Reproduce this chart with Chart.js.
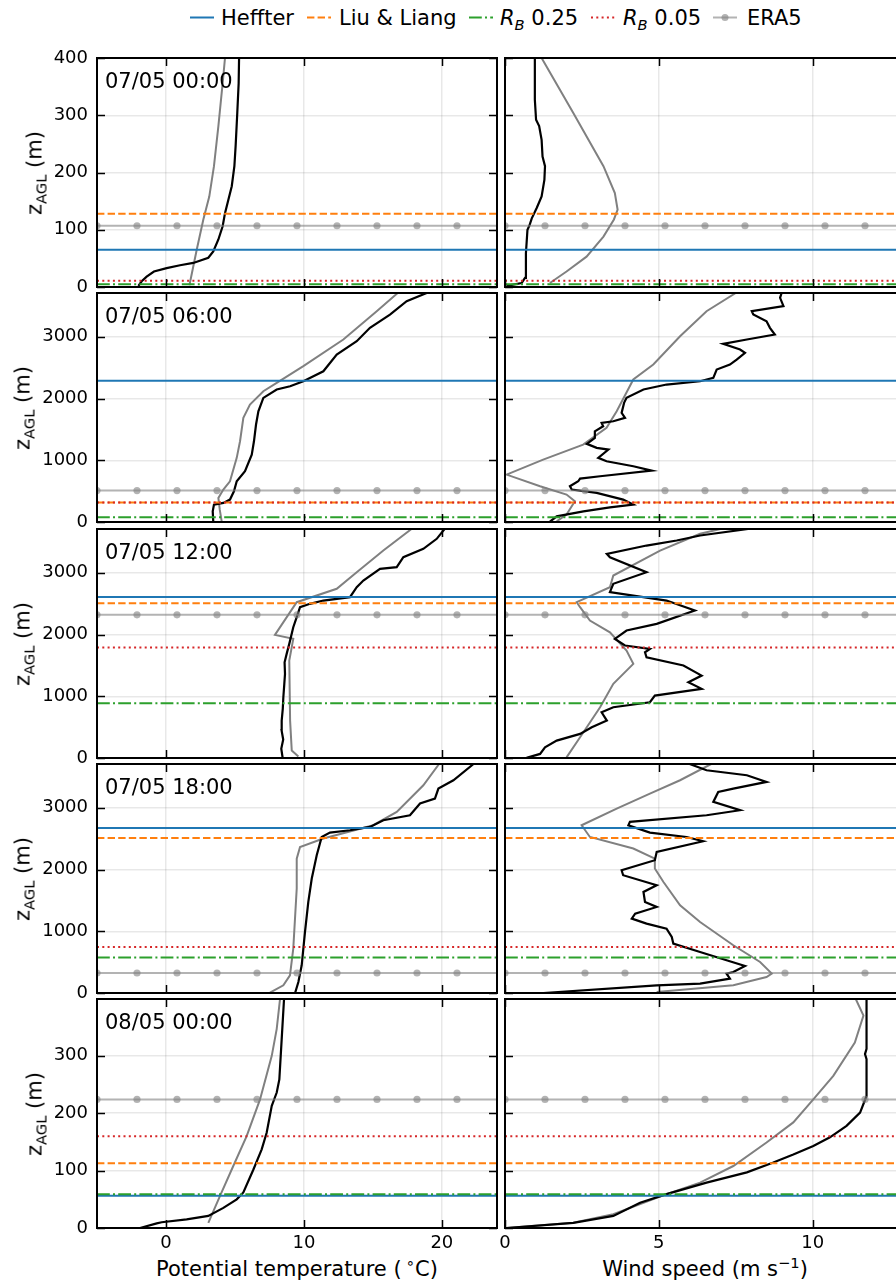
<!DOCTYPE html>
<html>
<head>
<meta charset="utf-8">
<title>PBL height profiles</title>
<script src="https://cdn.jsdelivr.net/npm/chart.js@4.4.1/dist/chart.umd.min.js"></script>
<style>
  html, body { margin: 0; padding: 0; }
  body { width: 896px; height: 1285px; overflow: hidden; position: relative; background: #fff;
         font-family: "DejaVu Sans", sans-serif; color: #000; }
  canvas { position: absolute; }
  .txt { position: absolute; white-space: nowrap; font-size: 21px; line-height: 21px; }
  .sample { position: absolute; top: 14px; }
  sub, sup { font-size: 70%; line-height: 0; }
  .ytitle { transform: translate(-50%, -50%) rotate(-90deg); }
  .xtitle { transform: translateX(-50%); }
</style>
</head>
<body>

<!-- legend -->
<svg class="sample" style="left:190px" width="24" height="7"><line x1="0" y1="3.5" x2="24" y2="3.5" stroke="#1f77b4" stroke-width="2"/></svg>
<div class="txt" style="left:221px;top:8px">Heffter</div>
<svg class="sample" style="left:307px" width="24" height="7"><line x1="0" y1="3.5" x2="24" y2="3.5" stroke="#ff7f0e" stroke-width="2" stroke-dasharray="7.4 3.2"/></svg>
<div class="txt" style="left:339px;top:8px">Liu &amp; Liang</div>
<svg class="sample" style="left:469px" width="24" height="7"><line x1="0" y1="3.5" x2="24" y2="3.5" stroke="#2ca02c" stroke-width="2" stroke-dasharray="12.8 3.2 2 3.2"/></svg>
<div class="txt" style="left:500px;top:8px"><i>R</i><sub><i>B</i></sub> 0.25</div>
<svg class="sample" style="left:591px" width="24" height="7"><line x1="0" y1="3.5" x2="24" y2="3.5" stroke="#d62728" stroke-width="2" stroke-dasharray="2 3.3"/></svg>
<div class="txt" style="left:623px;top:8px"><i>R</i><sub><i>B</i></sub> 0.05</div>
<svg class="sample" style="left:713px" width="24" height="7"><line x1="0" y1="3.5" x2="24" y2="3.5" stroke="rgba(128,128,128,0.6)" stroke-width="2"/><circle cx="12" cy="3.5" r="3.5" fill="rgba(128,128,128,0.6)"/></svg>
<div class="txt" style="left:747px;top:8px">ERA5</div>

<!-- x axis titles -->
<div class="txt xtitle" style="left:297px;top:1259px">Potential temperature (&thinsp;<sup>∘</sup>C)</div>
<div class="txt xtitle" style="left:705px;top:1259px">Wind speed (m s<sup>−1</sup>)</div>

<script>
// ===== DATA =====
const TIMES = ["07/05 00:00", "07/05 06:00", "07/05 12:00", "07/05 18:00", "08/05 00:00"];

// axis ranges
const THETA_AXIS = [-5, 24, 10];
const WS_AXIS = [0, 13, 5];
const Z_TOP = [400, 3710, 3710, 3710, 399];
const Z_STEP = [100, 1000, 1000, 1000, 100];

// boundary layer heights (m) per time
const PBL_HEFFTER = [65, 2290, 2610, 2675, 56];
const PBL_LIU = [128, 315, 2507, 2512, 113];
const PBL_RB025 = [5, 76, 887, 574, 59];
const PBL_RB005 = [11, 314, 1789, 746, 160];
const PBL_ERA5 = [107, 509, 2319, 324, 224];

// ---- 07/05 00:00 ----
const SONDE_THETA_Z1 = [2, 10, 18, 27, 33, 38, 42, 51, 62, 83, 106, 129, 152, 176, 211, 246, 304, 356, 400];
const SONDE_THETA1 = [-2.0, -1.76, -1.4, -0.87, 0.05, 1.02, 1.98, 3.07, 3.43, 3.8, 4.11, 4.28, 4.52, 4.77, 4.96, 5.05, 5.17, 5.27, 5.3];
const ERA5_THETA_Z1 = [3, 65, 118, 158, 211, 281, 356, 400];
const ERA5_THETA1 = [1.7, 2.23, 2.71, 3.14, 3.48, 3.8, 4.11, 4.28];
const SONDE_WS_Z1 = [2, 7, 16, 59, 100, 107, 120, 138, 158, 187, 211, 228, 257, 281, 292, 327, 400];
const SONDE_WS1 = [0.05, 0.54, 0.65, 0.68, 0.73, 0.79, 0.87, 1.03, 1.19, 1.28, 1.3, 1.22, 1.19, 1.11, 1.01, 0.97, 0.97];
const ERA5_WS_Z1 = [7, 27, 53, 88, 118, 135, 164, 211, 304, 400];
const ERA5_WS1 = [1.46, 2.0, 2.65, 3.2, 3.54, 3.66, 3.57, 3.2, 2.22, 1.19];

// ---- 07/05 06:00 ----
const SONDE_THETA_Z2 = [5, 173, 282, 310, 363, 498, 660, 822, 1092, 1308, 1579, 1794, 2011, 2146, 2199, 2280, 2442, 2713, 2929, 3146, 3361, 3577, 3710];
const SONDE_THETA2 = [3.43, 3.39, 3.48, 4.16, 4.64, 4.93, 5.13, 5.73, 6.22, 6.38, 6.53, 6.7, 7.06, 8.03, 9.0, 9.96, 11.41, 12.38, 13.83, 14.79, 16.24, 17.45, 18.9];
const ERA5_THETA_Z2 = [10, 200, 390, 525, 660, 1039, 1308, 1687, 1903, 2119, 2254, 2524, 2956, 3415, 3710];
const ERA5_THETA2 = [4.04, 3.9, 3.8, 4.16, 4.64, 5.13, 5.37, 5.61, 6.09, 7.06, 8.03, 9.96, 12.86, 15.28, 16.8];
const SONDE_WS_Z2 = [5, 92, 173, 238, 282, 363, 471, 525, 579, 660, 703, 741, 833, 903, 984, 1039, 1173, 1201, 1266, 1363, 1470, 1551, 1606, 1632, 1687, 1768, 1930, 2011, 2146, 2227, 2280, 2335, 2470, 2551, 2632, 2740, 2794, 2886, 2956, 3037, 3146, 3253, 3361, 3415, 3496, 3632, 3710];
const SONDE_WS2 = [1.46, 1.68, 2.55, 3.41, 4.17, 3.84, 2.98, 2.17, 2.11, 2.38, 2.44, 3.09, 4.77, 4.17, 3.3, 3.03, 3.36, 2.98, 2.66, 2.92, 2.92, 3.19, 3.14, 3.52, 3.9, 3.79, 3.87, 3.95, 4.5, 5.25, 6.34, 6.77, 6.88, 7.31, 7.53, 7.8, 7.64, 7.09, 7.86, 8.77, 8.61, 8.5, 8.07, 8.02, 9.05, 8.94, 8.99];
const ERA5_WS_Z2 = [11, 120, 335, 444, 579, 768, 1011, 1254, 1525, 1794, 2308, 2551, 3010, 3415, 3710];
const ERA5_WS2 = [1.68, 2.0, 2.27, 2.0, 1.14, 0.05, 1.24, 2.54, 3.3, 3.63, 4.17, 4.82, 5.69, 6.55, 7.5];

// ---- 07/05 12:00 ----
const SONDE_THETA_Z3 = [0, 150, 300, 450, 606, 800, 984, 1200, 1363, 1550, 1687, 1849, 2119, 2281, 2443, 2498, 2551, 2605, 2767, 2875, 3065, 3091, 3253, 3389, 3551, 3710];
const SONDE_THETA3 = [8.46, 8.36, 8.5, 8.38, 8.39, 8.47, 8.51, 8.58, 8.63, 8.6, 8.75, 8.94, 9.23, 9.48, 9.72, 10.44, 11.41, 13.34, 13.83, 14.31, 15.52, 16.73, 17.21, 18.66, 19.63, 20.2];
const ERA5_THETA_Z3 = [23, 120, 606, 1579, 1930, 1995, 2524, 2741, 3010, 3361, 3710];
const ERA5_THETA3 = [9.6, 9.12, 9.0, 8.94, 9.23, 7.9, 9.48, 12.38, 13.83, 15.76, 17.8];
const SONDE_WS_Z3 = [2, 66, 173, 282, 390, 498, 606, 741, 822, 903, 1011, 1120, 1227, 1335, 1498, 1632, 1713, 1768, 1822, 1930, 2065, 2173, 2389, 2551, 2686, 2822, 3010, 3253, 3308, 3442, 3524, 3605, 3710];
const SONDE_WS3 = [0.7, 1.14, 1.3, 1.68, 2.44, 2.82, 3.31, 3.14, 3.52, 4.71, 4.87, 6.39, 5.96, 6.39, 5.8, 4.6, 4.55, 4.71, 3.9, 3.57, 3.95, 4.93, 6.17, 5.25, 3.41, 3.52, 4.6, 3.41, 3.31, 4.6, 5.58, 6.34, 7.9];
const ERA5_WS_Z3 = [11, 336, 822, 1201, 1525, 1741, 2037, 2227, 2443, 2524, 2767, 2956, 3361, 3632, 3710];
const ERA5_WS3 = [2.0, 2.44, 3.09, 3.52, 4.17, 3.95, 3.41, 2.76, 2.44, 2.33, 3.41, 3.52, 5.04, 6.34, 7.0];

// ---- 07/05 18:00 ----
const SONDE_THETA_Z4 = [0, 178, 449, 989, 1475, 1854, 2232, 2528, 2599, 2637, 2690, 2799, 2880, 3069, 3150, 3312, 3447, 3710];
const SONDE_THETA4 = [9.36, 9.6, 9.84, 10.08, 10.32, 10.57, 10.93, 11.29, 11.89, 13.34, 14.79, 15.76, 17.69, 18.42, 19.5, 19.75, 20.84, 22.3];
const ERA5_THETA_Z4 = [6, 125, 287, 720, 1692, 2175, 2366, 2502, 2718, 2933, 3366, 3710];
const ERA5_THETA4 = [7.54, 8.51, 8.99, 9.23, 9.48, 9.48, 9.72, 11.41, 15.03, 16.73, 18.66, 19.8];
const SONDE_WS_Z4 = [0, 125, 152, 233, 314, 341, 438, 530, 665, 800, 908, 1043, 1124, 1205, 1286, 1394, 1475, 1637, 1746, 1908, 1989, 2151, 2285, 2459, 2528, 2599, 2718, 2772, 2880, 2961, 3096, 3258, 3312, 3420, 3528, 3609, 3710];
const SONDE_WS4 = [1.25, 4.93, 6.34, 7.31, 7.2, 7.42, 7.8, 7.2, 6.34, 5.47, 5.42, 5.25, 4.6, 4.12, 4.23, 4.93, 4.55, 4.5, 4.93, 3.84, 3.79, 4.87, 4.93, 6.44, 5.9, 4.71, 4.01, 4.06, 6.55, 7.64, 6.77, 6.93, 7.42, 8.5, 7.86, 6.55, 6.0];
const ERA5_WS_Z4 = [16, 125, 259, 314, 502, 773, 1151, 1421, 1799, 2016, 2178, 2340, 2528, 2718, 2988, 3231, 3447, 3710];
const ERA5_WS4 = [4.93, 7.42, 8.5, 8.67, 8.29, 7.42, 6.34, 5.69, 5.15, 4.87, 4.87, 4.17, 2.76, 2.49, 3.63, 4.71, 5.69, 6.7];

// ---- 08/05 00:00 ----
const SONDE_THETA_Z5 = [0, 8, 10, 15, 21, 35, 50, 62, 102, 137, 166, 213, 236, 259, 329, 399];
const SONDE_THETA5 = [-1.88, -0.67, -0.31, 1.5, 3.07, 4.16, 5.13, 5.61, 6.34, 6.94, 7.3, 7.67, 8.03, 8.22, 8.39, 8.56];
const ERA5_THETA_Z5 = [9, 56, 108, 160, 224, 300, 347, 399];
const ERA5_THETA5 = [3.07, 3.92, 4.88, 5.85, 6.82, 7.67, 8.03, 8.27];
const SONDE_WS_Z5 = [0, 9, 21, 44, 59, 79, 97, 114, 128, 143, 158, 178, 201, 230, 294, 303, 312, 399];
const SONDE_WS5 = [0.05, 2.22, 3.52, 4.39, 5.25, 6.55, 7.86, 8.72, 9.37, 10.02, 10.56, 11.1, 11.54, 11.75, 11.75, 11.7, 11.75, 11.75];
const ERA5_WS_Z5 = [0, 9, 24, 59, 79, 108, 149, 184, 224, 265, 323, 370, 399];
const ERA5_WS5 = [0.05, 2.22, 3.52, 5.25, 6.34, 7.42, 8.5, 9.37, 10.02, 10.67, 11.37, 11.65, 11.4];

const SONDE_THETA = [[SONDE_THETA_Z1, SONDE_THETA1], [SONDE_THETA_Z2, SONDE_THETA2], [SONDE_THETA_Z3, SONDE_THETA3], [SONDE_THETA_Z4, SONDE_THETA4], [SONDE_THETA_Z5, SONDE_THETA5]];
const ERA5_THETA = [[ERA5_THETA_Z1, ERA5_THETA1], [ERA5_THETA_Z2, ERA5_THETA2], [ERA5_THETA_Z3, ERA5_THETA3], [ERA5_THETA_Z4, ERA5_THETA4], [ERA5_THETA_Z5, ERA5_THETA5]];
const SONDE_WS = [[SONDE_WS_Z1, SONDE_WS1], [SONDE_WS_Z2, SONDE_WS2], [SONDE_WS_Z3, SONDE_WS3], [SONDE_WS_Z4, SONDE_WS4], [SONDE_WS_Z5, SONDE_WS5]];
const ERA5_WS = [[ERA5_WS_Z1, ERA5_WS1], [ERA5_WS_Z2, ERA5_WS2], [ERA5_WS_Z3, ERA5_WS3], [ERA5_WS_Z4, ERA5_WS4], [ERA5_WS_Z5, ERA5_WS5]];

// ===== LAYOUT =====
const PLOT_W = 400, PLOT_H = 229;
const COL_LEFT = [97, 505];
const ROW_TOP = [58, 293, 529, 764, 999];
const FONT = '"DejaVu Sans", sans-serif';

Chart.defaults.font.family = FONT;
Chart.defaults.color = "#000";

// frame + inward ticks on all four sides, like the matplotlib axes
const framePlugin = {
  id: "frame",
  afterDraw(chart) {
    const { ctx, chartArea: a, scales } = chart;
    const len = 8;
    ctx.save();
    ctx.strokeStyle = "#000";
    ctx.lineWidth = 1.5;
    ctx.beginPath();
    scales.x.ticks.forEach(t => {
      const px = Math.round(scales.x.getPixelForValue(t.value)) + 0.5;
      ctx.moveTo(px, a.bottom); ctx.lineTo(px, a.bottom - len);
      ctx.moveTo(px, a.top); ctx.lineTo(px, a.top + len);
    });
    scales.y.ticks.forEach(t => {
      const py = Math.round(scales.y.getPixelForValue(t.value)) + 0.5;
      ctx.moveTo(a.left, py); ctx.lineTo(a.left + len, py);
      ctx.moveTo(a.right, py); ctx.lineTo(a.right - len, py);
    });
    ctx.stroke();
    ctx.lineWidth = 2;
    ctx.strokeRect(a.left, a.top, a.right - a.left, a.bottom - a.top);
    ctx.restore();
  }
};

const toPoints = (zs, xs) => xs.map((x, i) => ({ x: x, y: zs[i] }));

function profile(pair, color, width) {
  return { data: toPoints(pair[0], pair[1]), borderColor: color, borderWidth: width,
           showLine: true, pointRadius: 0, tension: 0 };
}

function hline(h, range, color, dash) {
  return { data: [{ x: range[0], y: h }, { x: range[1], y: h }], borderColor: color,
           borderWidth: 2, borderDash: dash, showLine: true, pointRadius: 0 };
}

// ERA5 PBL height: a horizontal line with a marker every tenth of the axis
function era5Line(h, range) {
  const pts = [], radius = [];
  for (let k = 0; k <= 10; k++) {
    pts.push({ x: range[0] + k * (range[1] - range[0]) / 10, y: h });
    radius.push(k < 10 ? 3.6 : 0);
  }
  return { data: pts, borderColor: "rgba(128,128,128,0.6)", borderWidth: 2, showLine: true,
           pointRadius: radius, pointBackgroundColor: "rgba(128,128,128,0.6)", pointBorderWidth: 0 };
}

function stepTicks(max, step) {
  const t = [];
  for (let v = 0; v <= max; v += step) t.push({ value: v });
  return t;
}

function addText(html, cls, left, top) {
  const d = document.createElement("div");
  d.className = "txt " + cls;
  d.style.left = left + "px";
  d.style.top = top + "px";
  d.innerHTML = html;
  document.body.appendChild(d);
}

function makePanel(row, col) {
  const isLeft = col === 0, isBottom = row === TIMES.length - 1;
  // margins big enough that Chart.js never pushes the plot area in
  const padL = isLeft ? 70 : 14, padT = 24, padR = 4, padB = isBottom ? 34 : 24;
  const range = isLeft ? THETA_AXIS : WS_AXIS;

  const canvas = document.createElement("canvas");
  canvas.width = padL + PLOT_W + padR;
  canvas.height = padT + PLOT_H + padB;
  canvas.style.left = (COL_LEFT[col] - padL) + "px";
  canvas.style.top = (ROW_TOP[row] - padT) + "px";
  document.body.appendChild(canvas);

  const datasets = [
    profile(isLeft ? ERA5_THETA[row] : ERA5_WS[row], "#808080", 2),
    profile(isLeft ? SONDE_THETA[row] : SONDE_WS[row], "#000", 2.2),
    hline(PBL_HEFFTER[row], range, "#1f77b4", []),
    hline(PBL_LIU[row], range, "#ff7f0e", [7.4, 3.2]),
    hline(PBL_RB025[row], range, "#2ca02c", [12.8, 3.2, 2, 3.2]),
    hline(PBL_RB005[row], range, "#d62728", [2, 3.3]),
    era5Line(PBL_ERA5[row], range)
  ];
  // first in list is drawn at the bottom
  datasets.forEach((d, i) => { d.order = datasets.length - i; });

  const grid = { color: "rgba(0,0,0,0.09)", lineWidth: 1.5, drawTicks: false };

  new Chart(canvas, {
    type: "scatter",
    data: { datasets: datasets },
    options: {
      responsive: false,
      animation: false,
      devicePixelRatio: 1,
      layout: { padding: { top: padT, right: padR, left: 0, bottom: 0 } },
      plugins: { legend: { display: false }, tooltip: { enabled: false } },
      scales: {
        x: {
          type: "linear", min: range[0], max: range[1],
          grid: grid, border: { display: false },
          ticks: { display: isBottom, maxRotation: 0, autoSkip: false, padding: 5, color: "#000",
                   font: { family: FONT, size: 18 }, callback: v => String(v) },
          afterBuildTicks: s => {
            s.ticks = stepTicks(range[1], range[2]);
          },
          afterFit: s => { s.height = padB; }
        },
        y: {
          type: "linear", min: 0, max: Z_TOP[row],
          grid: grid, border: { display: false },
          ticks: { display: isLeft, autoSkip: false, padding: 9, color: "#000",
                   font: { family: FONT, size: 18 }, callback: v => String(v) },
          afterBuildTicks: s => {
            s.ticks = stepTicks(Z_TOP[row], Z_STEP[row]);
          },
          afterFit: s => { s.width = padL; }
        }
      }
    },
    plugins: [framePlugin]
  });
}

TIMES.forEach((time, row) => {
  makePanel(row, 0);
  makePanel(row, 1);
  addText(time, "", COL_LEFT[0] + 8, ROW_TOP[row] + 13);
  const titleX = Z_STEP[row] === 100 ? 35 : 23;
  addText("z<sub>AGL</sub> (m)", "ytitle", titleX, ROW_TOP[row] + PLOT_H / 2);
});
</script>
</body>
</html>
